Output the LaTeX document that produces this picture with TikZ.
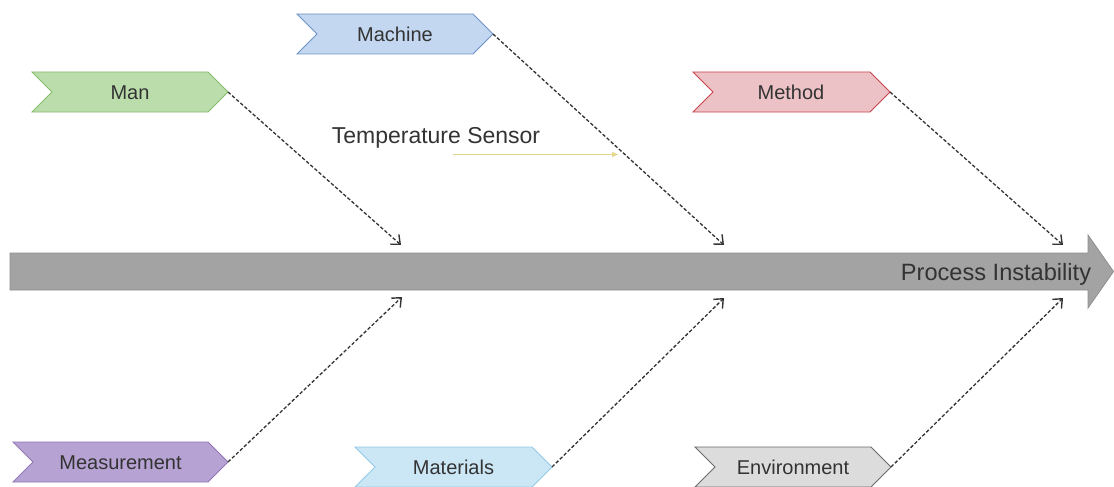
\documentclass[tikz,border=0pt]{standalone}
\usepackage{fontspec}
\setmainfont{Liberation Sans}
\usetikzlibrary{arrows.meta}

\definecolor{txt}{HTML}{333333}
\definecolor{spine}{HTML}{A3A3A3}
\definecolor{spineline}{HTML}{8E8E8E}
\definecolor{greenfill}{HTML}{BADDAB}
\definecolor{greenline}{HTML}{86BC6C}
\definecolor{bluefill}{HTML}{C3D7F1}
\definecolor{blueline}{HTML}{6D92C8}
\definecolor{redfill}{HTML}{ECC2C6}
\definecolor{redline}{HTML}{C9444E}
\definecolor{purplefill}{HTML}{B6A2D3}
\definecolor{purpleline}{HTML}{9277B4}
\definecolor{cyanfill}{HTML}{CBE7F6}
\definecolor{cyanline}{HTML}{92C9E6}
\definecolor{grayfill}{HTML}{DCDCDC}
\definecolor{grayline}{HTML}{6A6A6A}
\definecolor{sensor}{HTML}{E2D68C}

\tikzset{
  label/.style={font=\fontsize{20}{24}\selectfont, text=txt, anchor=base, inner sep=0pt},
  headline/.style={font=\fontsize{23}{28}\selectfont, text=txt, anchor=base, inner sep=0pt},
  cause/.style={line width=0.9pt, line join=miter},
  bone/.style={draw=txt, line width=1.3pt, dash pattern=on 3.5pt off 2pt,
    -{Straight Barb[length=7.5pt,width=13pt,line width=1.4pt]}},
}

\begin{document}
\begin{tikzpicture}[x=1pt,y=-1pt]
\useasboundingbox (0,0) rectangle (1114,487);

% spine arrow
\draw[fill=spine, draw=spineline, line width=0.8pt]
  (10,253) -- (1088,253) -- (1088,235) -- (1113.5,271.5) -- (1088,308) -- (1088,290) -- (10,290) -- cycle;
\node[headline, font=\fontsize{23.6}{28}\selectfont] (effect) at (996,280) {Process Instability};

% cause categories (notched chevrons)
\draw[cause, fill=greenfill, draw=greenline]
  (32,72) -- (208,72) -- (228,92) -- (208,112) -- (32,112) -- (52,92) -- cycle;
\node[label] (man) at (130,99.5) {Man};
\coordinate (mantip) at (228,92);

\draw[cause, fill=bluefill, draw=blueline]
  (297,14) -- (473,14) -- (493,34) -- (473,54) -- (297,54) -- (317,34) -- cycle;
\node[label] (machine) at (395,41.5) {Machine};
\coordinate (machinetip) at (493,34);

\draw[cause, fill=redfill, draw=redline]
  (693,72) -- (870,72) -- (890,92) -- (870,112) -- (693,112) -- (713,92) -- cycle;
\node[label] (method) at (791,99.5) {Method};
\coordinate (methodtip) at (890,92);

\draw[cause, fill=purplefill, draw=purpleline]
  (13,442) -- (208,442) -- (228,462) -- (208,482) -- (13,482) -- (33,462) -- cycle;
\node[label] (measurement) at (120.5,469.5) {Measurement};
\coordinate (measurementtip) at (228,462);

\draw[cause, fill=cyanfill, draw=cyanline]
  (355,447) -- (532,447) -- (552,467) -- (532,487) -- (355,487) -- (375,467) -- cycle;
\node[label] (materials) at (453.5,474.5) {Materials};
\coordinate (materialstip) at (552,467);

\draw[cause, fill=grayfill, draw=grayline]
  (695,447) -- (871,447) -- (891,467) -- (871,487) -- (695,487) -- (715,467) -- cycle;
\node[label] (environment) at (793,474.5) {Environment};
\coordinate (environmenttip) at (891,467);

% points where the bones meet the spine
\coordinate (s1) at (401,245);
\coordinate (s2) at (724,245);
\coordinate (s3) at (1063,245);
\coordinate (s4) at (402,297);
\coordinate (s5) at (724,298);
\coordinate (s6) at (1063,298);

\draw[bone] (mantip) -- (s1);
\draw[bone] (machinetip) -- (s2);
\draw[bone] (methodtip) -- (s3);
\draw[bone] (measurementtip) -- (s4);
\draw[bone] (materialstip) -- (s5);
\draw[bone] (environmenttip) -- (s6);

% sub-cause on the machine bone
\node[headline] (tempsensor) at (436,143) {Temperature Sensor};
\coordinate (sensorstart) at (453,154.5);
\coordinate (sensorend) at (618,154.5);
\draw[sensor, line width=1.2pt, -{Triangle[length=6pt,width=5pt]}] (sensorstart) -- (sensorend);
\end{tikzpicture}
\end{document}
